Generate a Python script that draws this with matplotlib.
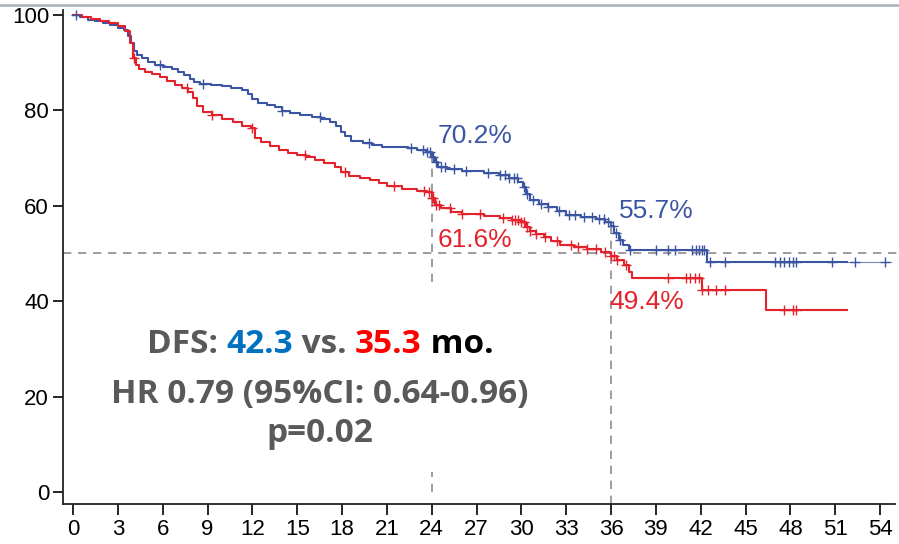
import numpy as np
import matplotlib
matplotlib.use("Agg")
import matplotlib.pyplot as plt
from matplotlib.lines import Line2D
from matplotlib.patches import Rectangle

# Kaplan-Meier step points (months, DFS %)
blue_t = [0, 0.5, 1.0, 1.5, 2.0, 2.5, 3.0, 3.4, 3.7, 3.9, 4.1, 4.3, 4.6, 5.0, 5.5, 6.0,
          6.6, 7.0, 7.4, 7.8, 8.1, 8.5, 9.2, 10.0, 10.6, 11.3, 11.7, 12.0, 12.4, 13.0,
          13.5, 14.0, 14.5, 15.2, 16.0, 16.6, 17.2, 17.6, 17.9, 18.2, 18.6, 19.4, 20.0,
          20.7, 22.4, 23.0, 23.6, 24.0, 24.2, 24.4, 25.0, 26.0, 27.5, 28.5, 29.2, 29.8,
          30.1, 30.3, 30.6, 31.2, 31.8, 32.4, 33.0, 34.0, 35.0, 35.6, 36.0, 36.2, 36.5,
          36.8, 37.2, 42.4]
blue_s = [100, 99.5, 99.0, 98.6, 98.2, 97.8, 97.3, 96.8, 95.5, 94.0, 92.5, 91.5, 91.0,
          90.2, 89.5, 89.1, 88.6, 88.1, 87.4, 86.6, 85.9, 85.5, 85.3, 85.0, 84.7, 84.2,
          83.3, 82.4, 81.6, 81.1, 80.6, 79.9, 79.4, 79.0, 78.6, 78.2, 77.5, 76.6, 75.5,
          74.5, 73.6, 73.2, 72.7, 72.3, 72.0, 71.6, 71.2, 70.2, 69.2, 68.2, 67.6, 67.2,
          66.8, 66.4, 65.8, 65.0, 64.0, 62.5, 61.2, 60.4, 59.7, 58.9, 58.0, 57.6, 57.2,
          56.6, 55.7, 54.2, 52.8, 51.8, 50.7, 48.2]
blue_end = 51.8
blue_tail_end = 54.7

red_t = [0, 0.6, 1.2, 1.8, 2.4, 3.0, 3.5, 3.8, 4.0, 4.2, 4.4, 4.8, 5.3, 5.8, 6.3, 6.8,
         7.3, 7.7, 8.0, 8.3, 8.7, 9.3, 10.0, 10.7, 11.3, 11.9, 12.2, 12.6, 13.2, 13.8,
         14.4, 15.0, 15.6, 16.2, 16.8, 17.5, 17.9, 18.5, 19.2, 19.9, 20.5, 21.0, 22.0,
         23.0, 23.7, 24.0, 24.2, 24.6, 25.3, 26.0, 27.5, 28.6, 29.4, 30.0, 30.3, 30.6,
         31.0, 31.5, 32.0, 32.6, 33.5, 34.4, 35.3, 35.9, 36.0, 36.4, 36.9, 37.2, 37.4,
         42.1, 46.4]
red_s = [100, 99.6, 99.2, 98.8, 98.3, 97.6, 96.5, 94.0, 91.0, 89.5, 88.7, 88.0, 87.5,
         86.9, 86.2, 85.3, 84.6, 83.8, 82.6, 80.8, 79.6, 79.0, 78.2, 77.6, 76.8, 76.3,
         74.2, 73.3, 72.5, 71.7, 71.1, 70.6, 70.1, 69.6, 68.9, 68.2, 67.0, 66.3, 65.8,
         65.3, 64.7, 64.2, 63.6, 63.1, 62.8, 61.6, 60.2, 59.5, 58.7, 58.2, 57.8, 57.4,
         57.0, 56.5, 55.6, 54.8, 54.0, 53.4, 52.6, 51.8, 51.4, 50.9, 50.4, 50.0, 49.4,
         48.6, 47.6, 46.2, 44.9, 42.3, 38.2]
red_end = 51.8

# censored observations (months)
blue_cens = [0.2, 5.8, 8.7, 14.0, 16.5, 19.8, 22.6, 23.4, 23.7, 23.9, 24.1, 24.3, 24.6,
             24.9, 25.5, 26.3, 27.8, 28.6, 28.9, 29.2, 29.5, 29.7, 30.2, 30.4, 30.8,
             31.3, 31.8, 32.5, 33.2, 33.6, 34.2, 34.7, 35.2, 35.5, 35.8, 36.1, 36.3,
             36.6, 37.3, 39.0, 39.8, 40.3, 41.4, 41.7, 41.9, 42.1, 42.2, 42.6, 43.6,
             47.0, 47.3, 47.6, 47.9, 48.2, 48.4, 50.8, 52.3, 54.3]
red_cens = [4.1, 7.6, 9.3, 12.0, 15.5, 18.2, 21.5, 23.5, 23.8, 24.0, 24.1, 24.3, 24.5,
            25.2, 26.0, 27.2, 28.8, 29.4, 29.6, 29.8, 30.0, 30.2, 30.4, 30.6, 31.0,
            31.6, 32.4, 33.3, 33.8, 34.4, 35.0, 35.6, 36.0, 36.2, 36.4, 37.0, 39.8,
            41.0, 41.3, 41.6, 41.9, 42.1, 42.5, 43.0, 43.6, 47.6, 48.2, 48.4]

landmarks = [24, 36]
blue_marks = [70.2, 55.7]
red_marks = [61.6, 49.4]
x_ticks = list(range(0, 55, 3))
y_ticks = [0, 20, 40, 60, 80, 100]

BLUE = "#3b55a2"
RED = "#e3222b"
GRID = "#8c8c8c"


def surv_at(t, s, x):
    idx = np.searchsorted(t, x, side="right") - 1
    return np.asarray(s)[idx]


fig = plt.figure(figsize=(8.99, 5.44), dpi=100)
ax = fig.add_axes([63 / 899, 40 / 544, 832 / 899, 494 / 544])
ax.set_xlim(-0.67, 55.0)
ax.set_ylim(-2.5, 101.0)

# reference lines at 50 % and at the 24/36-month landmarks
dash = dict(color=GRID, lw=1.2, ls=(0, (5, 4)), zorder=1)
ax.plot([-0.67, 56], [50, 50], clip_on=False, **dash)
ax.plot([landmarks[0]] * 2, [0, blue_marks[0]], **dash)
ax.plot([landmarks[1]] * 2, [-2.5, blue_marks[1]], **dash)

# curves
bt = list(blue_t) + [blue_end]
bs = list(blue_s) + [blue_s[-1]]
ax.step(bt, bs, where="post", color=BLUE, lw=1.5, zorder=4)
ax.plot([blue_end, blue_tail_end], [blue_s[-1], blue_s[-1]], color=BLUE, lw=0.8, alpha=0.7, zorder=4)
rt = list(red_t) + [red_end]
rs = list(red_s) + [red_s[-1]]
ax.step(rt, rs, where="post", color=RED, lw=1.5, zorder=4)

ax.plot(blue_cens, surv_at(blue_t, blue_s, blue_cens), ls="none", marker="+",
        ms=7, mew=1.0, color=BLUE, zorder=5)
ax.plot(red_cens, surv_at(red_t, red_s, red_cens), ls="none", marker="+",
        ms=7, mew=1.0, color=RED, zorder=5)

# landmark labels
lab = dict(fontsize=19, family=["Liberation Sans", "DejaVu Sans"], ha="left", va="center", zorder=6)
ax.text(24.4, 74.6, f"{blue_marks[0]}%", color=BLUE, **lab)
ax.text(24.4, 52.8, f"{red_marks[0]}%", color=RED, **lab)
ax.text(36.55, 58.9, f"{blue_marks[1]}%", color=BLUE, **lab)
ax.text(35.9, 39.8, f"{red_marks[1]}%", color=RED, **lab)

# white box behind the summary statistics
ax.add_patch(Rectangle((1.8, 4.2), 29.7, 39.8, facecolor="white", edgecolor="none", zorder=3))

for sp in ["top", "right"]:
    ax.spines[sp].set_visible(False)
for sp in ["left", "bottom"]:
    ax.spines[sp].set_linewidth(1.3)
    ax.spines[sp].set_color("#222222")

ax.set_xticks(x_ticks)
ax.set_yticks(y_ticks)
ax.tick_params(axis="x", length=8, width=1.2, pad=2.5, labelsize=16)
ax.tick_params(axis="y", length=7, width=1.2, pad=3, labelsize=16)
for lbl in ax.get_xticklabels():
    lbl.set_family(["Liberation Sans Narrow", "Liberation Sans", "DejaVu Sans"])
for lbl in ax.get_yticklabels():
    lbl.set_family(["Liberation Sans", "DejaVu Sans"])

# thin rule across the top
fig.add_artist(Line2D([0, 1], [1 - 5 / 544, 1 - 5 / 544], color="#a7b1bc", lw=1.8))

# summary statistics block, centred, with coloured medians
GRAY = "#595959"
bold = dict(fontsize=24, weight="bold", family=["Open Sans", "DejaVu Sans"], va="baseline", zorder=7)
lines = [
    [("DFS: ", GRAY), ("42.3", "#0070c0"), (" vs. ", GRAY), ("35.3", "#ff0000"), (" mo.", "#000000")],
    [("HR 0.79 (95%CI: 0.64-0.96)", GRAY)],
    [("p=0.02", GRAY)],
]
baselines = [353, 403, 442]
cx = 320

fig.canvas.draw()
renderer = fig.canvas.get_renderer()
for parts, base in zip(lines, baselines):
    texts = [fig.text(0, 0, s, color=c, **bold) for s, c in parts]
    widths = [t.get_window_extent(renderer).width for t in texts]
    x = cx - sum(widths) / 2
    for t, w in zip(texts, widths):
        t.set_position((x / 899, (544 - base) / 544))
        x += w

fig.savefig("out.png", dpi=100)
